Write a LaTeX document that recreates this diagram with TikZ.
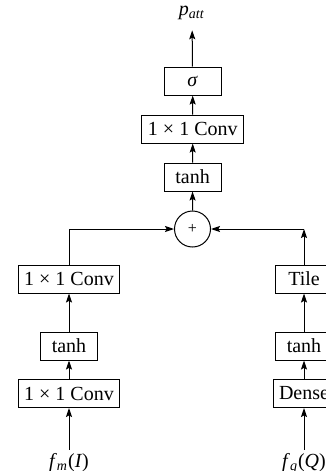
\documentclass[tikz,border=0pt]{standalone}
\usepackage{fontspec}
\setmainfont{Liberation Serif}
\usetikzlibrary{arrows.meta}
\tikzset{
  every picture/.style={x=0.5pt,y=-0.5pt},
  blk/.style={draw,line width=0.5pt,minimum width=28.5pt,minimum height=14pt,inner xsep=3pt,inner ysep=0pt,font=\fontsize{10}{12}\selectfont},
  sumc/.style={draw,circle,line width=0.5pt,minimum size=18pt,inner sep=0pt,font=\fontsize{8}{9}\selectfont},
  lbl/.style={anchor=base,inner xsep=0pt,font=\fontsize{10}{12}\selectfont},
  arr/.style={line width=0.5pt,-{Stealth[length=4.5pt,width=3pt,inset=0.8pt]}},
  ln/.style={line width=0.5pt}
}
\begin{document}
\begin{tikzpicture}
\clip (0,0) rectangle (326,471);
% top column
\node[lbl,inner ysep=5pt] (patt) at (192,15.6) {\textit{p}\textsubscript{\textit{att}}};
\node[blk] (sig) at (192.6,81) {\textit{σ}};
\node[blk] (convt) at (192.8,129) {1 × 1 Conv};
\node[blk] (tanht) at (192.6,177) {tanh};
\node[sumc] (sum) at (192.5,229) {+};
% left column
\node[blk] (convl2) at (69,279) {1 × 1 Conv};
\node[blk] (tanhl) at (69,346) {tanh};
\node[blk] (convl1) at (69,393.5) {1 × 1 Conv};
\node[lbl,inner ysep=1.5pt] (fm) at (69,467) {\textit{f}\textsubscript{\textit{m}}(\textit{I})};
% right column
\node[blk] (tile) at (304,279) {Tile};
\node[blk] (tanhr) at (304,346) {tanh};
\node[blk] (dense) at (304,393.5) {Dense};
\node[lbl,inner ysep=1.5pt] (fq) at (304,467) {\textit{f}\textsubscript{\textit{q}}(\textit{Q})};
\coordinate (corner) at (304,229);
% connectors
\draw[arr] (sig) -- (patt);
\draw[arr] (convt) -- (sig);
\draw[arr] (tanht) -- (convt);
\draw[arr] (sum) -- (tanht);
\draw[arr] (fm) -- (convl1);
\draw[arr] (convl1) -- (tanhl);
\draw[arr] (tanhl) -- (convl2);
\draw[arr] (convl2.north) |- (sum.west);
\draw[arr] (fq) -- (dense);
\draw[arr] (dense) -- (tanhr);
\draw[arr] (tanhr) -- (tile);
\draw[arr] (tile.north) -- (corner);
\draw[arr] (corner) -- (sum.east);
\end{tikzpicture}
\end{document}
